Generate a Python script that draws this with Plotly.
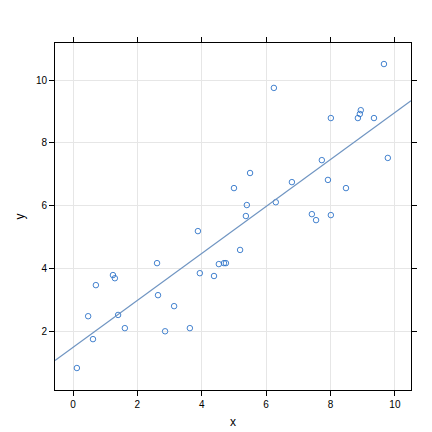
import numpy as np
import plotly.graph_objects as go

x = [0.12, 0.47, 0.62, 0.71, 1.24, 1.30, 1.40, 1.61, 2.61, 2.64, 2.86, 3.14, 3.63,
     3.88, 3.94, 4.38, 4.53, 4.69, 4.75, 5.00, 5.19, 5.37, 5.40, 5.50, 6.24, 6.30,
     6.80, 7.42, 7.55, 7.73, 7.92, 8.01, 8.01, 8.48, 8.85, 8.91, 8.94, 9.35, 9.66, 9.78]
y = [0.83, 2.48, 1.75, 3.47, 3.79, 3.69, 2.52, 2.10, 4.17, 3.15, 2.00, 2.80, 2.10,
     5.19, 3.85, 3.76, 4.14, 4.17, 4.17, 6.56, 4.59, 5.67, 6.02, 7.04, 9.75, 6.11,
     6.75, 5.73, 5.54, 7.45, 6.82, 8.79, 5.70, 6.56, 8.79, 8.92, 9.04, 8.79, 10.51, 7.52]

x_range = [-0.56, 10.5]
y_range = [0.13, 11.18]

slope, intercept = np.polyfit(x, y, 1)
line_x = np.array(x_range)
line_y = intercept + slope * line_x

fig = go.Figure()
fig.add_trace(go.Scatter(x=x, y=y, mode="markers",
                         marker=dict(symbol="circle-open", size=5.5, color="#2f74c8",
                                     line=dict(width=0.9))))
fig.add_trace(go.Scatter(x=line_x, y=line_y, mode="lines",
                         line=dict(color="#7095c2", width=1.2)))

axis_style = dict(showline=True, linecolor="black", linewidth=1, mirror="ticks",
                  ticks="outside", ticklen=5, tickcolor="black", automargin=False,
                  showgrid=True, gridcolor="#e6e6e6", zeroline=False,
                  tickfont=dict(size=10, color="black"))

fig.update_layout(
    width=432, height=432, showlegend=False,
    paper_bgcolor="white", plot_bgcolor="white",
    margin=dict(l=47, r=29, t=35, b=50),
    font=dict(family="Liberation Sans, Arial", color="black"),
    xaxis=dict(range=x_range, tickvals=[0, 2, 4, 6, 8, 10],
               title=dict(text="x", font=dict(size=12), standoff=8), **axis_style),
    yaxis=dict(range=y_range, tickvals=[2, 4, 6, 8, 10],
               title=dict(text="y", font=dict(size=12), standoff=8), **axis_style),
)

fig.write_html("out.html")
